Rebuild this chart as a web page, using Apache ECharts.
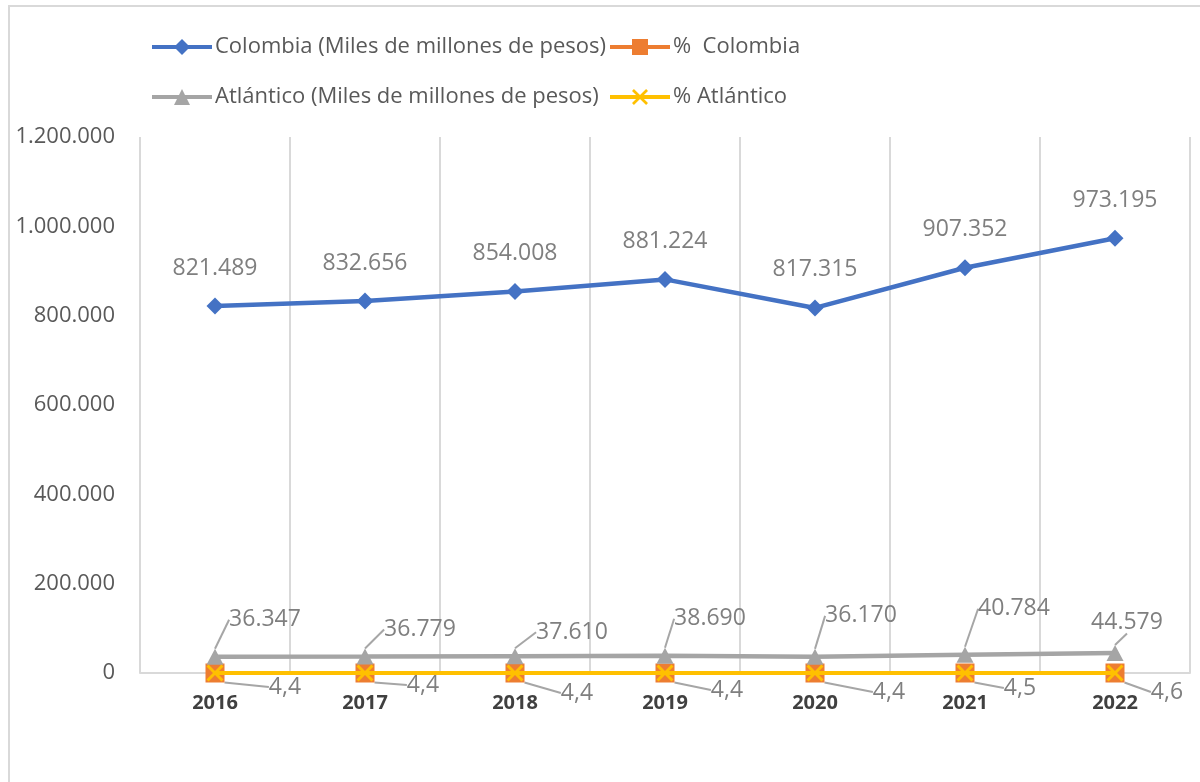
<!DOCTYPE html>
<html><head><meta charset="utf-8">
<script src="https://cdn.jsdelivr.net/npm/echarts@6/dist/echarts.min.js"></script>
<style>html,body{margin:0;padding:0;background:#fff}#c{width:1200px;height:782px}</style>
</head><body><div id="c"></div>
<script>
// ---- data ----
const years = ['2016', '2017', '2018', '2019', '2020', '2021', '2022'];
const colombia = [821489, 832656, 854008, 881224, 817315, 907352, 973195];
const pctColombia = [4.4, 4.4, 4.4, 4.4, 4.4, 4.5, 4.6];
const atlantico = [36347, 36779, 37610, 38690, 36170, 40784, 44579];
const pctAtlantico = [4.4, 4.4, 4.4, 4.4, 4.4, 4.5, 4.6];
const yMin = 0, yMax = 1200000, yStep = 200000;
const names = ['Colombia (Miles de millones de pesos)', '%  Colombia', 'Atlántico (Miles de millones de pesos)', '% Atlántico'];

// ---- style helpers ----
const FONT = '"Open Sans", "Noto Sans", sans-serif';
const atlShift = [[50,-37],[55,-27],[57,-24],[45,-37],[46,-41],[49,-46],[12,-31]];
const pctShift = [[70,14],[58,12],[62,20],[62,17],[74,19],[55,15],[52,19]];
const X_PATH = 'path://M0,1.2 L1.2,0 L5,3.8 L8.8,0 L10,1.2 L6.2,5 L10,8.8 L8.8,10 L5,6.2 L1.2,10 L0,8.8 L3.8,5 Z';
function thousands(v) { return String(Math.round(v)).replace(/\B(?=(\d{3})+(?!\d))/g, '.'); }
function comma(v) { return v.toFixed(1).replace('.', ','); }

const chart = echarts.init(document.getElementById('c'), null, {renderer: 'canvas'});
const legendBase = {
  orient: 'horizontal', itemWidth: 60, itemHeight: 20, itemGap: 0, padding: 0,
  lineStyle: {width: 4},
  textStyle: {fontFamily: FONT, fontSize: 22, color: '#595959', padding: [0, 0, 0, -2]}
};
const valueLabel = {fontFamily: FONT, fontSize: 23, color: '#7f7f7f'};

chart.setOption({
  animation: false,
  backgroundColor: '#ffffff',
  graphic: [{
    type: 'rect', silent: true, z: -10,
    shape: {x: 9, y: 6, width: 1400, height: 1000},
    style: {fill: 'none', stroke: '#d9d9d9', lineWidth: 2}
  }],
  legend: [
    Object.assign({}, legendBase, {left: 150, top: 36, data: [names[0]]}),
    Object.assign({}, legendBase, {left: 608, top: 36, data: [names[1]]}),
    Object.assign({}, legendBase, {left: 150, top: 86, data: [names[2]]}),
    Object.assign({}, legendBase, {left: 608, top: 86, data: [names[3]]})
  ],
  grid: {left: 140, right: 10, top: 137, bottom: 109, containLabel: false},
  xAxis: {
    type: 'category', data: years, boundaryGap: true,
    axisLine: {show: true, lineStyle: {color: '#d9d9d9', width: 2}},
    axisTick: {show: false},
    splitLine: {show: true, lineStyle: {color: '#d9d9d9', width: 2}},
    axisLabel: {fontFamily: FONT, fontSize: 20, fontWeight: 'bold', color: '#404040', margin: 20}
  },
  yAxis: {
    type: 'value', min: yMin, max: yMax, interval: yStep,
    axisLine: {show: false}, axisTick: {show: false}, splitLine: {show: false},
    axisLabel: {fontFamily: FONT, fontSize: 22, color: '#595959', margin: 25, formatter: thousands}
  },
  series: [
    {
      name: names[0], type: 'line', data: colombia,
      symbol: 'diamond', symbolSize: 17,
      lineStyle: {color: '#4472c4', width: 4.5}, itemStyle: {color: '#4472c4'},
      label: Object.assign({show: true, position: 'top', distance: 18, formatter: p => thousands(p.value)}, valueLabel),
      z: 3
    },
    {
      name: names[1], type: 'line', data: pctColombia,
      symbol: 'rect', symbolSize: 19,
      lineStyle: {color: '#ed7d31', width: 4}, itemStyle: {color: '#ed7d31'},
      label: Object.assign({show: true, position: 'inside', formatter: p => comma(p.value)}, valueLabel),
      labelLine: {show: true, lineStyle: {color: '#a6a6a6', width: 2}},
      labelLayout: p => ({dx: pctShift[p.dataIndex][0], dy: pctShift[p.dataIndex][1]}),
      z: 4
    },
    {
      name: names[2], type: 'line', data: atlantico,
      symbol: 'triangle', symbolSize: [17, 16],
      lineStyle: {color: '#a5a5a5', width: 4.5}, itemStyle: {color: '#a5a5a5'},
      label: Object.assign({show: true, position: 'inside', formatter: p => thousands(p.value)}, valueLabel),
      labelLine: {show: true, lineStyle: {color: '#a6a6a6', width: 2}},
      labelLayout: p => ({dx: atlShift[p.dataIndex][0], dy: atlShift[p.dataIndex][1]}),
      z: 5
    },
    {
      name: names[3], type: 'line', data: pctAtlantico,
      symbol: X_PATH, symbolSize: 17,
      lineStyle: {color: '#ffc000', width: 4}, itemStyle: {color: '#ffc000'},
      label: {show: false},
      z: 6
    }
  ]
});
</script>
</body></html>
